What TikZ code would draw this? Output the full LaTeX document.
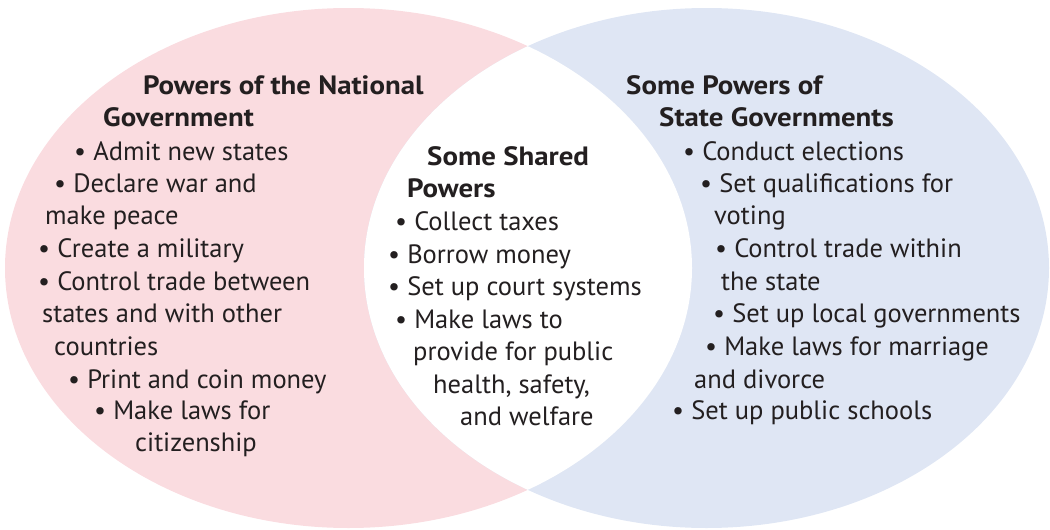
\documentclass[tikz,border=0pt]{standalone}
\usepackage{fontspec}
\setmainfont{PT Sans}
\newfontfamily\headfont[FakeStretch=1.09]{PT Sans Bold}
\definecolor{natpink}{RGB}{250,220,224}
\definecolor{stateblue}{RGB}{223,230,244}
\definecolor{ink}{RGB}{35,31,32}
\begin{document}
\begin{tikzpicture}[x=1pt,y=-1pt,
  txt/.style={anchor=mid west,inner sep=0pt,text=ink,font=\fontsize{26.5}{30}\selectfont},
  head/.style={txt,font=\fontsize{26.5}{30}\headfont}]
\useasboundingbox (0,0) rectangle (1050,530);
\fill[natpink] (348.5,268) ellipse [x radius=343.5pt, y radius=260pt];
\fill[stateblue] (706.5,268) ellipse [x radius=342.5pt, y radius=260pt];
\begin{scope}
\clip (348.5,268) ellipse [x radius=343.5pt, y radius=260pt];
\fill[white] (706.5,268) ellipse [x radius=342.5pt, y radius=260pt];
\end{scope}
\begin{scope}[yshift=-6pt]
% national
\node[head] (n1) at (143,86) {Powers of the National};
\node[head] (n2) at (103,118) {Government};
\node[txt] (n3) at (74,152) {• Admit new states};
\node[txt] (n4) at (54,184) {• Declare war and};
\node[txt] (n5) at (45,216) {make peace};
\node[txt] (n6) at (38,249) {• Create a military};
\node[txt] (n7) at (38,282) {• Control trade between};
\node[txt] (n8) at (42,314) {states and with other};
\node[txt] (n9) at (54,347) {countries};
\node[txt] (n10) at (68,380) {• Print and coin money};
\node[txt] (n11) at (94,411) {• Make laws for};
\node[txt] (n12) at (135,443) {citizenship};
% shared
\node[head] (c1) at (427,157) {Some Shared};
\node[head] (c2) at (407,189) {Powers};
\node[txt] (c3) at (395,222) {• Collect taxes};
\node[txt] (c4) at (388,255) {• Borrow money};
\node[txt] (c5) at (388,287) {• Set up court systems};
\node[txt] (c6) at (395,320) {• Make laws to};
\node[txt] (c7) at (413,352) {provide for public};
\node[txt] (c8) at (433,385) {health, safety,};
\node[txt] (c9) at (460,417) {and welfare};
% state
\node[head] (s1) at (626,86) {Some Powers of};
\node[head] (s2) at (659,118) {State Governments};
\node[txt] (s3) at (683,152) {• Conduct elections};
\node[txt] (s4) at (700,184) {• Set qualifications for};
\node[txt] (s5) at (714,216) {voting};
\node[txt] (s6) at (715,249) {• Control trade within};
\node[txt] (s7) at (721,282) {the state};
\node[txt] (s8) at (713,314) {• Set up local governments};
\node[txt] (s9) at (705,347) {• Make laws for marriage};
\node[txt] (s10) at (694,380) {and divorce};
\node[txt] (s11) at (672,411) {• Set up public schools};
\end{scope}
\end{tikzpicture}
\end{document}
